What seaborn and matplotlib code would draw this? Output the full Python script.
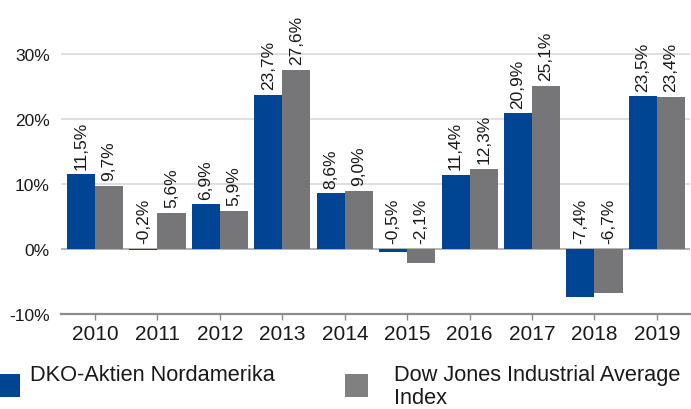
import matplotlib
matplotlib.use("Agg")
import matplotlib.pyplot as plt
from matplotlib.patches import Rectangle
import seaborn as sns
import pandas as pd

years = ["2010", "2011", "2012", "2013", "2014", "2015", "2016", "2017", "2018", "2019"]
dko = [11.5, -0.2, 6.9, 23.7, 8.6, -0.5, 11.4, 20.9, -7.4, 23.5]
dow = [9.7, 5.6, 5.9, 27.6, 9.0, -2.1, 12.3, 25.1, -6.7, 23.4]
series_names = ["DKO-Aktien Nordamerika", "Dow Jones Industrial Average Index"]
legend_labels = ["DKO-Aktien Nordamerika", "Dow Jones Industrial Average\nIndex"]
yticks = [-10, 0, 10, 20, 30]

sns.set_style("white")
plt.rcParams["font.family"] = ["Liberation Sans", "DejaVu Sans"]

df = pd.DataFrame({
    "year": years * 2,
    "value": dko + dow,
    "series": [series_names[0]] * len(years) + [series_names[1]] * len(years),
})

colors = ["#004494", "#767678"]
legend_colors = ["#004494", "#808080"]

W, H = 691, 410
fig = plt.figure(figsize=(W / 100, H / 100), dpi=100)
ax = fig.add_axes([61 / W, 1 - 315 / H, 629 / W, (315 - 22.5) / H])

sns.barplot(data=df, x="year", y="value", hue="series", palette=colors,
            width=0.9, gap=0, saturation=1, ax=ax, legend=False, zorder=3,
            errorbar=None, linewidth=0, edgecolor="none")

ax.set_ylim(-10, 35)
ax.set_xlim(-0.545, 9.53)
ax.set_yticks(yticks)
ax.set_yticklabels([f"{t}%" for t in yticks], fontsize=12.5, color="#1a1a1a")
for t in [10, 20, 30]:
    ax.axhline(t, color="#d9d9d9", lw=1.2, zorder=1)
ax.axhline(0, color="#a6a6a6", lw=1.2, zorder=2)
ax.set_xlabel("")
ax.set_ylabel("")
for s in ["left", "right", "top"]:
    ax.spines[s].set_visible(False)
ax.spines["bottom"].set_color("#8c8c8c")
ax.spines["bottom"].set_linewidth(1.6)
ax.tick_params(axis="y", length=0, pad=8)
ax.tick_params(axis="x", length=4, width=1, color="#8c8c8c", labelsize=15, pad=3,
               direction="out", labelcolor="#1a1a1a")
ax.xaxis.set_ticks_position("bottom")

# bar labels
for cont in ax.containers:
    for rect in cont:
        v = rect.get_height()
        x = rect.get_x() + rect.get_width() / 2
        txt = f"{v:.1f}%".replace(".", ",")
        ax.annotate(txt, (x, max(v, 0)), xytext=(0, 4), textcoords="offset points",
                    rotation=90, ha="center", va="bottom", fontsize=12.5, color="#1a1a1a",
                    zorder=5)

# legend (manual, Excel-like layout)
def fx(px):
    return px / W

def fy(py):
    return 1 - py / H

sq = [(-2, 375, 22, 23), (345, 375, 23, 23)]
txt_x = [30, 394]
for (x0, y0, w, h), c, lab, tx in zip(sq, legend_colors, legend_labels, txt_x):
    fig.add_artist(Rectangle((fx(x0), fy(y0 + h)), w / W, h / H,
                             transform=fig.transFigure, facecolor=c, edgecolor="none"))
    for i, line in enumerate(lab.split("\n")):
        fig.text(fx(tx), fy(381 + 23.5 * i), line, fontsize=15.7, ha="left",
                 va="baseline", color="#1a1a1a")

fig.savefig("out.png", dpi=100)
